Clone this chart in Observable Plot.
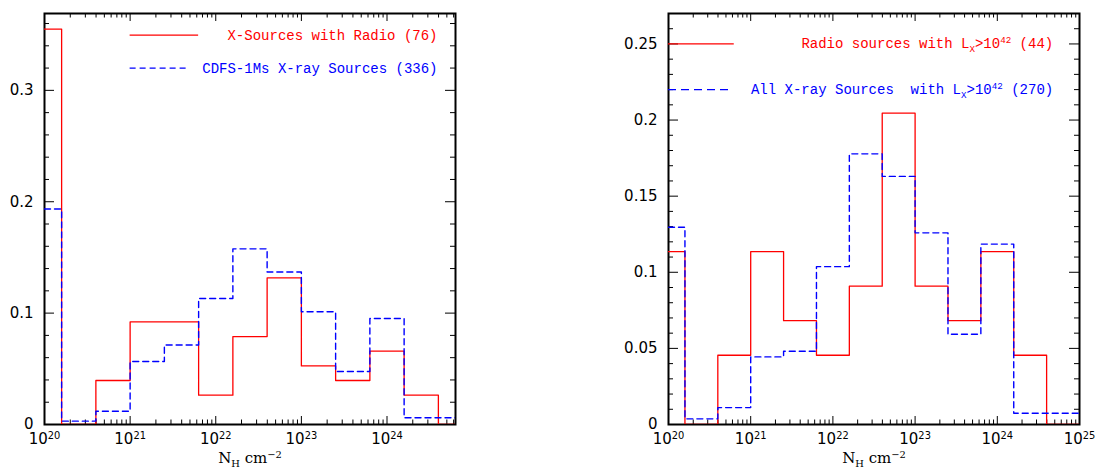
<!DOCTYPE html>
<html>
<head>
<meta charset="utf-8">
<script src="https://cdn.jsdelivr.net/npm/d3@7"></script>
<script src="https://cdn.jsdelivr.net/npm/@observablehq/plot@0.6"></script>
<style>
  body { margin: 0; background: #fff; }
  #wrap { position: relative; width: 1096px; height: 471px; overflow: hidden; }
  #left { position: absolute; left: 0; top: 0; }
  #right { position: absolute; left: 548px; top: 0; }
  svg text { white-space: pre; }
</style>
</head>
<body>
<div id="wrap"><div id="left"></div><div id="right"></div></div>
<script>
// ---------- data (log10 N_H bin edges and fractions per bin) ----------
const nhEdgesLog = [20.0, 20.2, 20.6, 21.0, 21.4, 21.8, 22.2, 22.6, 23.0, 23.4, 23.8, 24.2, 24.6, 25.0];
const leftRadioFrac  = [0.355, 0.000, 0.0395, 0.0921, 0.0921, 0.0263, 0.0789, 0.1316, 0.0526, 0.0395, 0.0658, 0.0263, 0.000];
const leftAllFrac    = [0.1935, 0.0030, 0.0119, 0.0565, 0.0714, 0.1131, 0.1577, 0.1369, 0.1012, 0.0476, 0.0952, 0.0060, 0.0060];
const rightRadioFrac = [0.1136, 0.000, 0.0455, 0.1136, 0.0682, 0.0455, 0.0909, 0.2045, 0.0909, 0.0682, 0.1136, 0.0455, 0.000];
const rightAllFrac   = [0.1296, 0.0037, 0.0111, 0.0444, 0.0481, 0.1037, 0.1778, 0.1630, 0.1259, 0.0593, 0.1185, 0.0074, 0.0074];

const xTickValues = [1e20, 1e21, 1e22, 1e23, 1e24, 1e25];
const xTickLabels = ["10^{20}", "10^{21}", "10^{22}", "10^{23}", "10^{24}", "10^{25}"];
const leftYTicks = [0, 0.1, 0.2, 0.3];
const leftYTickLabels = ["0", "0.1", "0.2", "0.3"];
const rightYTicks = [0, 0.05, 0.1, 0.15, 0.2, 0.25];
const rightYTickLabels = ["0", "0.05", "0.1", "0.15", "0.2", "0.25"];
const xAxisLabel = "N_{H} cm^{−2}";
const leftLegendLabels = ["X-Sources with Radio (76)", "CDFS-1Ms X-ray Sources (336)"];
const rightLegendLabels = ["Radio sources with L_{X}>10^{42} (44)", "All X-ray Sources  with L_{X}>10^{42} (270)"];

// ---------- layout ----------
const W = 548, H = 471, MT = 13, MB = 47;
const RED = "#ff0000", BLUE = "#0000ff";

function stepData(values) {
  const pts = values.map((v, i) => ({x: 10 ** nhEdgesLog[i], y: v}));
  pts.push({x: 10 ** nhEdgesLog[values.length], y: values[values.length - 1]});
  return pts;
}

function richify(svg) {
  const NS = "http://www.w3.org/2000/svg";
  d3.select(svg).selectAll("text").each(function () {
    const el = this;
    if (el.querySelector("tspan")) return;
    const s = el.textContent;
    if (!/[_^]\{/.test(s)) return;
    const fs = parseFloat(getComputedStyle(el).fontSize) || 14;
    el.textContent = "";
    const re = /([_^])\{([^}]*)\}/g;
    let last = 0, m, pending = 0;
    const add = (t, kind) => {
      if (!t) return;
      const ts = document.createElementNS(NS, "tspan");
      ts.textContent = t;
      let dy = 0;
      if (kind === "_") { dy = fs * 0.25; ts.setAttribute("font-size", (fs * 0.66).toFixed(1)); }
      else if (kind === "^") { dy = -fs * 0.36; ts.setAttribute("font-size", (fs * 0.66).toFixed(1)); }
      const total = dy + pending;
      if (total) ts.setAttribute("dy", total.toFixed(2));
      pending = -dy;
      el.appendChild(ts);
    };
    while ((m = re.exec(s))) {
      add(s.slice(last, m.index), null);
      add(m[2], m[1]);
      last = re.lastIndex;
    }
    add(s.slice(last), null);
  });
}

function panel(cfg) {
  const frameW = W - cfg.ml - cfg.mr, frameH = H - MT - MB;
  const xMax = cfg.xDomain[1];
  const xMajor = xTickValues.filter(v => v <= xMax * 1.0001);
  const xMinor = [];
  for (let n = 20; n < 25; n++) for (let k = 2; k <= 9; k++) { const v = k * 10 ** n; if (v < xMax) xMinor.push(v); }
  const yMinor = d3.range(0, cfg.yDomain[1] + 1e-9, cfg.yMinorStep)
    .filter(v => !cfg.yTicks.some(t => Math.abs(t - v) < 1e-6));
  const L = cfg.legend;
  return Plot.plot({
    width: W, height: H,
    marginLeft: cfg.ml, marginRight: cfg.mr, marginTop: MT, marginBottom: MB,
    style: {fontFamily: "DejaVu Sans", fontSize: "14px", background: "white", overflow: "visible", color: "black"},
    x: {type: "log", domain: cfg.xDomain},
    y: {domain: cfg.yDomain},
    marks: [
      // inward ticks on all four sides
      Plot.tickX(xMajor, {x: d => d, insetTop: frameH - 8, stroke: "black"}),
      Plot.tickX(xMinor, {x: d => d, insetTop: frameH - 4.5, stroke: "black"}),
      Plot.tickX(xMajor, {x: d => d, insetBottom: frameH - 8, stroke: "black"}),
      Plot.tickX(xMinor, {x: d => d, insetBottom: frameH - 4.5, stroke: "black"}),
      Plot.tickY(cfg.yTicks, {y: d => d, insetRight: frameW - 10, stroke: "black"}),
      Plot.tickY(yMinor, {y: d => d, insetRight: frameW - 5, stroke: "black"}),
      Plot.tickY(cfg.yTicks, {y: d => d, insetLeft: frameW - 10, stroke: "black"}),
      Plot.tickY(yMinor, {y: d => d, insetLeft: frameW - 5, stroke: "black"}),
      Plot.axisX(xMajor, {tickSize: 0, tickPadding: 9, label: null, fontSize: 15,
        tickFormat: d => xTickLabels[xTickValues.indexOf(d)]}),
      Plot.axisY(cfg.yTicks, {tickSize: 0, tickPadding: 11, label: null, fontSize: 15,
        tickFormat: d => cfg.yTickLabels[cfg.yTicks.indexOf(d)]}),
      Plot.text([xAxisLabel], {text: d => d, frameAnchor: "bottom", dy: 34, lineAnchor: "middle",
        fontFamily: "DejaVu Serif", fontSize: 15, fill: "black"}),
      Plot.frame({stroke: "black", strokeWidth: 2}),
      // histograms
      Plot.line(stepData(cfg.radio), {x: "x", y: "y", curve: "step-after", stroke: RED, strokeWidth: 1.3, clip: true}),
      Plot.line(stepData(cfg.all), {x: "x", y: "y", curve: "step-after", stroke: BLUE, strokeWidth: 1.4,
        strokeDasharray: "6,4", clip: true}),
      // legend
      Plot.ruleY([L[0]], {y: "y", x1: "x1", x2: "x2", stroke: RED, strokeWidth: 1.3}),
      Plot.ruleY([L[1]], {y: "y", x1: "x1", x2: "x2", stroke: BLUE, strokeWidth: 1.4, strokeDasharray: cfg.legendDash}),
      Plot.text([L[0]], {x: "xText", y: "y", text: "label", textAnchor: "end", lineAnchor: "middle",
        fill: RED, fontFamily: "Liberation Mono", fontSize: 14}),
      Plot.text([L[1]], {x: "xText", y: "y", text: "label", textAnchor: "end", lineAnchor: "middle",
        fill: BLUE, fontFamily: "Liberation Mono", fontSize: 14})
    ]
  });
}

const leftPlot = panel({
  ml: 44, mr: 93,
  xDomain: [1e20, 10 ** 24.8], yDomain: [0, 0.369],
  yTicks: leftYTicks, yTickLabels: leftYTickLabels, yMinorStep: 0.02,
  radio: leftRadioFrac, all: leftAllFrac, legendDash: "6,4",
  legend: [
    {label: leftLegendLabels[0], x1: 1e21, x2: 10 ** 21.8, xText: 10 ** 24.59, y: 0.3495},
    {label: leftLegendLabels[1], x1: 1e21, x2: 10 ** 21.68, xText: 10 ** 24.59, y: 0.32}
  ]
});
const rightPlot = panel({
  ml: 120, mr: 17,
  xDomain: [1e20, 1e25], yDomain: [0, 0.27],
  yTicks: rightYTicks, yTickLabels: rightYTickLabels, yMinorStep: 0.01,
  radio: rightRadioFrac, all: rightAllFrac, legendDash: "8,5",
  legend: [
    {label: rightLegendLabels[0], x1: 1e20, x2: 10 ** 20.8, xText: 10 ** 24.68, y: 0.25},
    {label: rightLegendLabels[1], x1: 1e20, x2: 10 ** 20.73, xText: 10 ** 24.68, y: 0.22}
  ]
});
document.getElementById("left").appendChild(leftPlot);
document.getElementById("right").appendChild(rightPlot);
richify(leftPlot);
richify(rightPlot);
</script>
</body>
</html>
